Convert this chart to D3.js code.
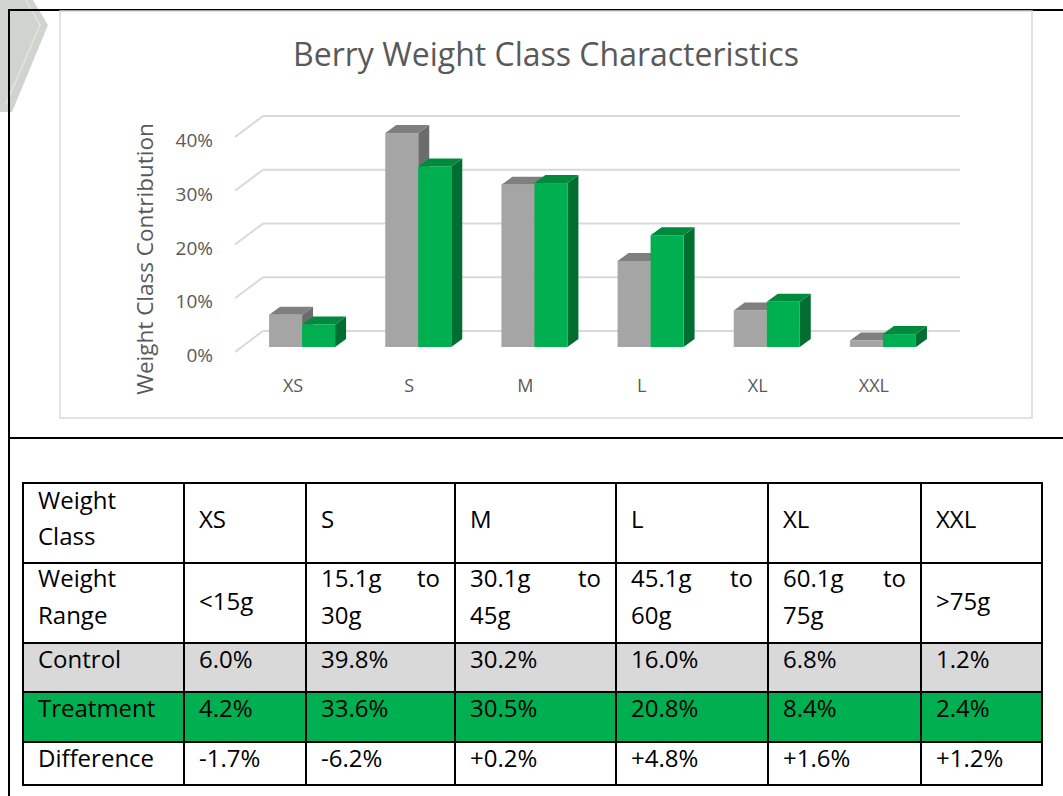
<!DOCTYPE html>
<html>
<head>
<meta charset="utf-8">
<script src="https://cdn.jsdelivr.net/npm/d3@7"></script>
<style>
  html, body { margin: 0; padding: 0; background: #fff; }
  svg { display: block; }
</style>
</head>
<body>
<div id="chart"></div>
<script>
// ----- data -----
let categories = ["XS", "S", "M", "L", "XL", "XXL"];
let weightRanges = [["<15g"], ["15.1g", "to", "30g"], ["30.1g", "to", "45g"], ["45.1g", "to", "60g"], ["60.1g", "to", "75g"], [">75g"]];
let control = [6.0, 39.8, 30.2, 16.0, 6.8, 1.2];
let treatment = [4.2, 33.6, 30.5, 20.8, 8.4, 2.4];
let difference = ["-1.7%", "-6.2%", "+0.2%", "+4.8%", "+1.6%", "+1.2%"];
let yTicks = [0, 10, 20, 30, 40];

let svgWidth = 1063;
let svgHeight = 796;

let svg = d3.select("#chart")
    .append("svg")
    .attr("width", svgWidth)
    .attr("height", svgHeight);

// faint watermark in the corner
svg.append("polygon")
    .attr("points", "0,0 33,0 48,25 12,112 0,112")
    .attr("fill", "#c9cbc9")
    .attr("opacity", 0.85);
svg.append("polyline")
    .attr("points", "26,0 40,25 6,104")
    .attr("fill", "none")
    .attr("stroke", "#dcebd6")
    .attr("stroke-width", 1.5);

// page borders
svg.append("line").attr("x1", 9).attr("x2", 1063).attr("y1", 10).attr("y2", 10)
    .attr("stroke", "#000").attr("stroke-width", 2);
svg.append("line").attr("x1", 9).attr("x2", 9).attr("y1", 9).attr("y2", 796)
    .attr("stroke", "#000").attr("stroke-width", 2);
svg.append("line").attr("x1", 9).attr("x2", 1063).attr("y1", 438).attr("y2", 438)
    .attr("stroke", "#000").attr("stroke-width", 2);

// chart box
svg.append("rect")
    .attr("x", 60).attr("y", 11)
    .attr("width", 972).attr("height", 407)
    .attr("fill", "#fff")
    .attr("stroke", "#d9d9d9")
    .attr("stroke-width", 1.5);

let chartFont = "'Open Sans', sans-serif";
let textGray = "#595959";

svg.append("text")
    .attr("x", 546).attr("y", 66)
    .attr("text-anchor", "middle")
    .attr("font-family", chartFont)
    .attr("font-size", 32)
    .attr("fill", textGray)
    .text("Berry Weight Class Characteristics");

// ----- 3d plot geometry -----
let frontLeft = 235, frontRight = 932;
let floorFront = 352;               // front edge of the floor
let depth = { dx: 28, dy: -21 };    // wall depth
let barShift = { dx: 9, dy: -5 };   // bars sit a little behind the front
let barDepth = { dx: 11, dy: -8 };
let barWidth = 33;

let x = d3.scaleBand()
    .domain(categories)
    .range([frontLeft, frontRight]);

let h = d3.scaleLinear()
    .domain([0, 40])
    .range([0, 215]);

let grid = svg.append("g");
yTicks.forEach(t => {
    let yb = floorFront + depth.dy - h(t);
    grid.append("line")
        .attr("x1", frontLeft + depth.dx).attr("x2", frontRight + depth.dx)
        .attr("y1", yb).attr("y2", yb)
        .attr("stroke", "#d9d9d9").attr("stroke-width", 2);
    grid.append("line")
        .attr("x1", frontLeft).attr("y1", yb - depth.dy)
        .attr("x2", frontLeft + depth.dx).attr("y2", yb)
        .attr("stroke", "#d9d9d9").attr("stroke-width", 2);
    grid.append("text")
        .attr("x", 213).attr("y", yb - depth.dy + 10)
        .attr("text-anchor", "end")
        .attr("font-family", chartFont)
        .attr("font-size", 19)
        .attr("fill", textGray)
        .text(t + "%");
});

svg.append("text")
    .attr("transform", "translate(153, 259) rotate(-90)")
    .attr("text-anchor", "middle")
    .attr("font-family", chartFont)
    .attr("font-size", 22.5)
    .attr("fill", textGray)
    .text("Weight Class Contribution");

// category labels
svg.append("g")
    .selectAll("text")
    .data(categories)
    .enter()
    .append("text")
    .attr("x", d => x(d) + x.bandwidth() / 2)
    .attr("y", 392)
    .attr("text-anchor", "middle")
    .attr("font-family", chartFont)
    .attr("font-size", 18)
    .attr("fill", textGray)
    .text(d => d);

// bars
let series = [
    { name: "Control", values: control, front: "#a5a5a5", top: "#7f7f7f", side: "#6c6c6c" },
    { name: "Treatment", values: treatment, front: "#00b050", top: "#008a3e", side: "#006e30" }
];

let baseY = floorFront + barShift.dy;
let bars = svg.append("g");

categories.forEach((cat, i) => {
    let cx = x(cat) + x.bandwidth() / 2 + barShift.dx;
    series.forEach((s, j) => {
        let x0 = cx - barWidth + j * barWidth;
        let x1 = x0 + barWidth;
        let yt = baseY - h(s.values[i]);
        let g = bars.append("g");
        g.append("polygon")
            .attr("points", [[x1, yt], [x1 + barDepth.dx, yt + barDepth.dy],
                [x1 + barDepth.dx, baseY + barDepth.dy], [x1, baseY]].join(" "))
            .attr("fill", s.side);
        g.append("polygon")
            .attr("points", [[x0, yt], [x0 + barDepth.dx, yt + barDepth.dy],
                [x1 + barDepth.dx, yt + barDepth.dy], [x1, yt]].join(" "))
            .attr("fill", s.top);
        g.append("rect")
            .attr("x", x0).attr("y", yt)
            .attr("width", barWidth).attr("height", baseY - yt)
            .attr("fill", s.front);
    });
});

// ----- table -----
let colX = [23, 184, 306, 455, 616, 768, 921, 1042];
let rowY = [483, 563, 643, 692, 742, 785];
let tableFont = "'Open Sans', sans-serif";
let fs = 24;
let pad = 15;

let table = svg.append("g");

table.append("rect").attr("x", colX[0]).attr("y", rowY[2])
    .attr("width", colX[7] - colX[0]).attr("height", rowY[3] - rowY[2]).attr("fill", "#d9d9d9");
table.append("rect").attr("x", colX[0]).attr("y", rowY[3])
    .attr("width", colX[7] - colX[0]).attr("height", rowY[4] - rowY[3]).attr("fill", "#00b050");

function cellText(col, y, txt, anchor) {
    table.append("text")
        .attr("x", anchor === "end" ? colX[col + 1] - pad : colX[col] + pad)
        .attr("y", y)
        .attr("text-anchor", anchor || "start")
        .attr("font-family", tableFont)
        .attr("font-size", fs)
        .attr("fill", "#000")
        .text(txt);
}

// header row
cellText(0, 509, "Weight");
cellText(0, 545, "Class");
categories.forEach((c, i) => cellText(i + 1, 528, c));

// weight range row
cellText(0, 587, "Weight");
cellText(0, 624, "Range");
weightRanges.forEach((r, i) => {
    if (r.length === 1) {
        cellText(i + 1, 610, r[0]);
    } else {
        cellText(i + 1, 587, r[0]);
        cellText(i + 1, 587, r[1], "end");
        cellText(i + 1, 624, r[2]);
    }
});

cellText(0, 668, "Control");
control.forEach((v, i) => cellText(i + 1, 668, v.toFixed(1) + "%"));
cellText(0, 717, "Treatment");
treatment.forEach((v, i) => cellText(i + 1, 717, v.toFixed(1) + "%"));
cellText(0, 767, "Difference");
difference.forEach((v, i) => cellText(i + 1, 767, v));

// grid lines of the table
colX.forEach(cx => {
    table.append("line").attr("x1", cx).attr("x2", cx)
        .attr("y1", rowY[0]).attr("y2", rowY[5])
        .attr("stroke", "#000").attr("stroke-width", 2);
});
rowY.forEach(ry => {
    table.append("line").attr("x1", colX[0] - 1).attr("x2", colX[7] + 1)
        .attr("y1", ry).attr("y2", ry)
        .attr("stroke", "#000").attr("stroke-width", 2);
});
</script>
</body>
</html>
